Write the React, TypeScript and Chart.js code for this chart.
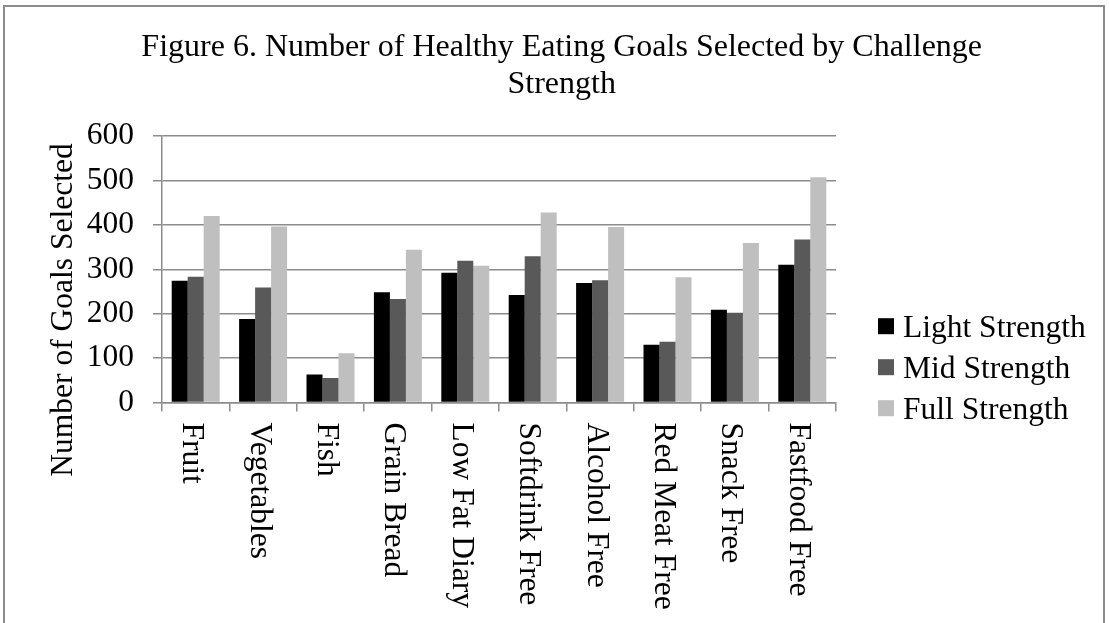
import React, { useEffect, useRef } from "react";
import { Chart, registerables } from "chart.js";

Chart.register(...registerables);

const categories = [
  "Fruit",
  "Vegetables",
  "Fish",
  "Grain Bread",
  "Low Fat Diary",
  "Softdrink Free",
  "Alcohol Free",
  "Red Meat Free",
  "Snack Free",
  "Fastfood Free",
];
const lightStrength = [274, 188, 63, 248, 292, 242, 269, 130, 209, 310];
const midStrength = [283, 259, 55, 233, 319, 329, 275, 137, 202, 367];
const fullStrength = [420, 396, 111, 344, 308, 428, 395, 282, 359, 507];
const seriesNames = ["Light Strength", "Mid Strength", "Full Strength"];
const seriesColors = ["#000000", "#595959", "#bfbfbf"];
const titleLines = ["Figure 6. Number of Healthy Eating Goals Selected by Challenge", "Strength"];
const yAxisTitle = "Number of Goals Selected";

const FONT = "Liberation Serif";
const FS = 31.5;
const GRID = "#8c8c8c";

const customText = {
  id: "customText",
  afterDraw(chart: any) {
    const ctx = chart.ctx;
    const xs = chart.scales.x;
    const area = chart.chartArea;
    ctx.save();
    ctx.font = `${FS}px "${FONT}"`;
    ctx.fillStyle = "#000";
    ctx.textAlign = "left";
    ctx.textBaseline = "alphabetic";
    // category labels, rotated to read downwards
    categories.forEach((c, i) => {
      const x = xs.getPixelForValue(i);
      ctx.save();
      ctx.translate(x - 12.5, area.bottom + 20);
      ctx.rotate(Math.PI / 2);
      ctx.fillText(c, 0, 0);
      ctx.restore();
    });
    // y axis title
    ctx.save();
    ctx.translate(71.7, 310);
    ctx.rotate(-Math.PI / 2);
    ctx.textAlign = "center";
    ctx.fillText(yAxisTitle, 0, 0);
    ctx.restore();
    // legend
    const lx = area.right + 42;
    chart.data.datasets.forEach((ds: any, i: number) => {
      const base = 336.7 + i * 41;
      ctx.fillStyle = ds.backgroundColor;
      ctx.fillRect(lx, base - 18.5, 16, 16);
      ctx.fillStyle = "#000";
      ctx.textAlign = "left";
      ctx.fillText(ds.label, lx + 25, base);
    });
    ctx.restore();
  },
};

export default function App() {
  const ref = useRef<HTMLCanvasElement | null>(null);
  useEffect(() => {
    if (!ref.current) return;
    const chart = new Chart(ref.current, {
      type: "bar",
      data: {
        labels: categories,
        datasets: [lightStrength, midStrength, fullStrength].map((d, i) => ({
          label: seriesNames[i],
          data: d,
          backgroundColor: seriesColors[i],
          borderWidth: 0,
          barPercentage: 1,
          categoryPercentage: 0.712,
        })),
      },
      options: {
        animation: false,
        responsive: false,
        devicePixelRatio: 1,
        layout: { padding: { left: 27.4, right: 13, top: 0, bottom: 0 } },
        plugins: {
          tooltip: { enabled: false },
          legend: { display: false },
          title: {
            display: true,
            text: titleLines,
            color: "#000",
            font: { family: FONT, size: 32, weight: "normal", lineHeight: 1.147 },
            padding: { top: 29.15, bottom: 33.45 },
          },
        },
        scales: {
          x: {
            grid: {
              display: true,
              drawOnChartArea: false,
              drawTicks: true,
              tickLength: 9,
              color: GRID,
              lineWidth: 1.5,
            },
            border: { display: true, color: GRID, width: 1.5 },
            ticks: { display: false },
            afterFit(scale: any) {
              scale.height = 220.5;
              scale.paddingRight = 273;
            },
          },
          y: {
            min: 0,
            max: 600,
            ticks: {
              stepSize: 100,
              color: "#000",
              padding: 19,
              font: { family: FONT, size: FS },
            },
            grid: { color: GRID, lineWidth: 1.5, tickLength: 9, drawTicks: true },
            border: { display: true, color: GRID, width: 1.5 },
            afterFit(scale: any) {
              scale.width = 162 - 27.4;
            },
          },
        },
      },
      plugins: [customText],
    });
    return () => chart.destroy();
  }, []);
  return (
    <div style={{ position: "fixed", left: 0, top: 0, width: 1109, height: 623, background: "#fff", overflow: "hidden" }}>
      <canvas ref={ref} width={1109} height={623} style={{ width: 1109, height: 623, display: "block" }} />
      <div
        style={{
          position: "absolute",
          left: 3,
          top: 5,
          width: 1102,
          height: 700,
          boxSizing: "border-box",
          border: "2px solid #8c8c8c",
          pointerEvents: "none",
        }}
      />
    </div>
  );
}
